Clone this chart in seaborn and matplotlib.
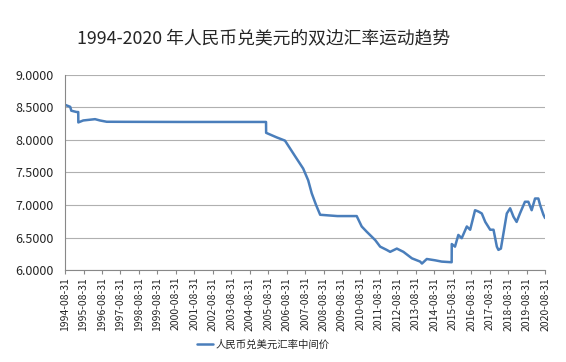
import pandas as pd
import numpy as np
import matplotlib
matplotlib.use("Agg")
import matplotlib.pyplot as plt
import matplotlib.dates as mdates
import matplotlib.ticker as ticker
import seaborn as sns

# values (approximate)
dates = [
    "1994-09-01", "1994-12-10", "1995-01-01", "1995-04-15", "1995-05-18", "1995-05-20",
    "1995-08-25", "1996-04-15", "1996-07-20", "1996-12-01", "1997-11-25", "1999-06-01",
    "2001-01-01", "2003-01-01", "2005-07-20", "2005-07-22", "2006-02-15", "2006-07-30",
    "2007-02-15", "2007-07-25", "2007-11-01", "2008-01-10", "2008-04-05", "2008-06-25",
    "2009-06-01", "2010-06-18", "2010-09-25", "2011-01-01", "2011-06-20", "2011-09-25",
    "2012-02-01", "2012-04-10", "2012-08-20", "2012-12-28", "2013-06-15", "2013-11-25",
    "2013-12-30", "2014-04-05", "2014-09-15", "2015-01-25", "2015-08-10", "2015-08-12",
    "2015-10-15", "2015-12-20", "2016-02-25", "2016-06-05", "2016-08-10", "2016-11-15",
    "2017-01-20", "2017-03-28", "2017-06-05", "2017-09-10", "2017-11-15", "2018-01-20",
    "2018-02-20", "2018-04-10", "2018-05-30", "2018-08-05", "2018-10-10", "2018-12-15",
    "2019-02-15", "2019-04-22", "2019-07-30", "2019-10-05", "2019-12-10", "2020-02-15",
    "2020-04-20", "2020-05-25", "2020-07-30", "2020-08-31",
]
rates = [
    8.54, 8.51, 8.45, 8.43, 8.43, 8.27,
    8.30, 8.32, 8.30, 8.28, 8.279, 8.278,
    8.277, 8.277, 8.277, 8.11, 8.04, 7.99,
    7.75, 7.56, 7.38, 7.18, 7.00, 6.85,
    6.83, 6.83, 6.67, 6.59, 6.46, 6.36,
    6.31, 6.28, 6.33, 6.28, 6.18, 6.13,
    6.10, 6.17, 6.15, 6.13, 6.12, 6.40,
    6.36, 6.54, 6.49, 6.67, 6.62, 6.92,
    6.90, 6.87, 6.74, 6.62, 6.62, 6.36,
    6.31, 6.33, 6.56, 6.87, 6.95, 6.82,
    6.74, 6.87, 7.05, 7.05, 6.92, 7.10,
    7.10, 7.00, 6.85, 6.80,
]
tick_dates = [f"{y}-08-31" for y in range(1994, 2021)]
series_name = "人民币兑美元汇率中间价"
title = "1994-2020 年人民币兑美元的双边汇率运动趋势"

df = pd.DataFrame({"date": pd.to_datetime(dates), "rate": rates})

sns.set_style("white")
plt.rcParams["font.family"] = ["Noto Sans CJK SC", "DejaVu Sans"]

fig = plt.figure(figsize=(5.66, 3.62), dpi=100)
ax = fig.add_axes([0.115, 0.254, 0.848, 0.539])

sns.lineplot(data=df, x="date", y="rate", ax=ax, color="#4a7ebb", linewidth=1.8,
             label=series_name, legend=False)

ax.set_ylim(6.0, 9.0)
ax.yaxis.set_major_locator(ticker.MultipleLocator(0.5))
ax.yaxis.set_major_formatter(ticker.FormatStrFormatter("%.4f"))
ax.grid(axis="y", color="#b0b0b0", linewidth=0.8)
ax.set_axisbelow(True)

ticks = pd.to_datetime(tick_dates)
ax.set_xlim(ticks[0], ticks[-1])
ax.set_xticks(ticks)
ax.xaxis.set_major_formatter(mdates.DateFormatter("%Y-%m-%d"))
ax.tick_params(axis="x", labelrotation=90, labelsize=7.5, length=3, color="#888888",
               direction="out", bottom=True, pad=2)
ax.tick_params(axis="y", labelsize=9, length=0, pad=8)

for s in ["top", "right"]:
    ax.spines[s].set_visible(False)
for s in ["left", "bottom"]:
    ax.spines[s].set_color("#888888")
    ax.spines[s].set_linewidth(0.8)

ax.set_xlabel("")
ax.set_ylabel("")

fig.text(0.465, 0.895, title, ha="center", va="center", fontsize=12.8)
handles, labels = ax.get_legend_handles_labels()
fig.legend(handles, labels, loc="center", bbox_to_anchor=(0.465, 0.047), frameon=False,
           fontsize=7.5, handlelength=1.6, handletextpad=0.2)

fig.savefig("out.png", dpi=100)
